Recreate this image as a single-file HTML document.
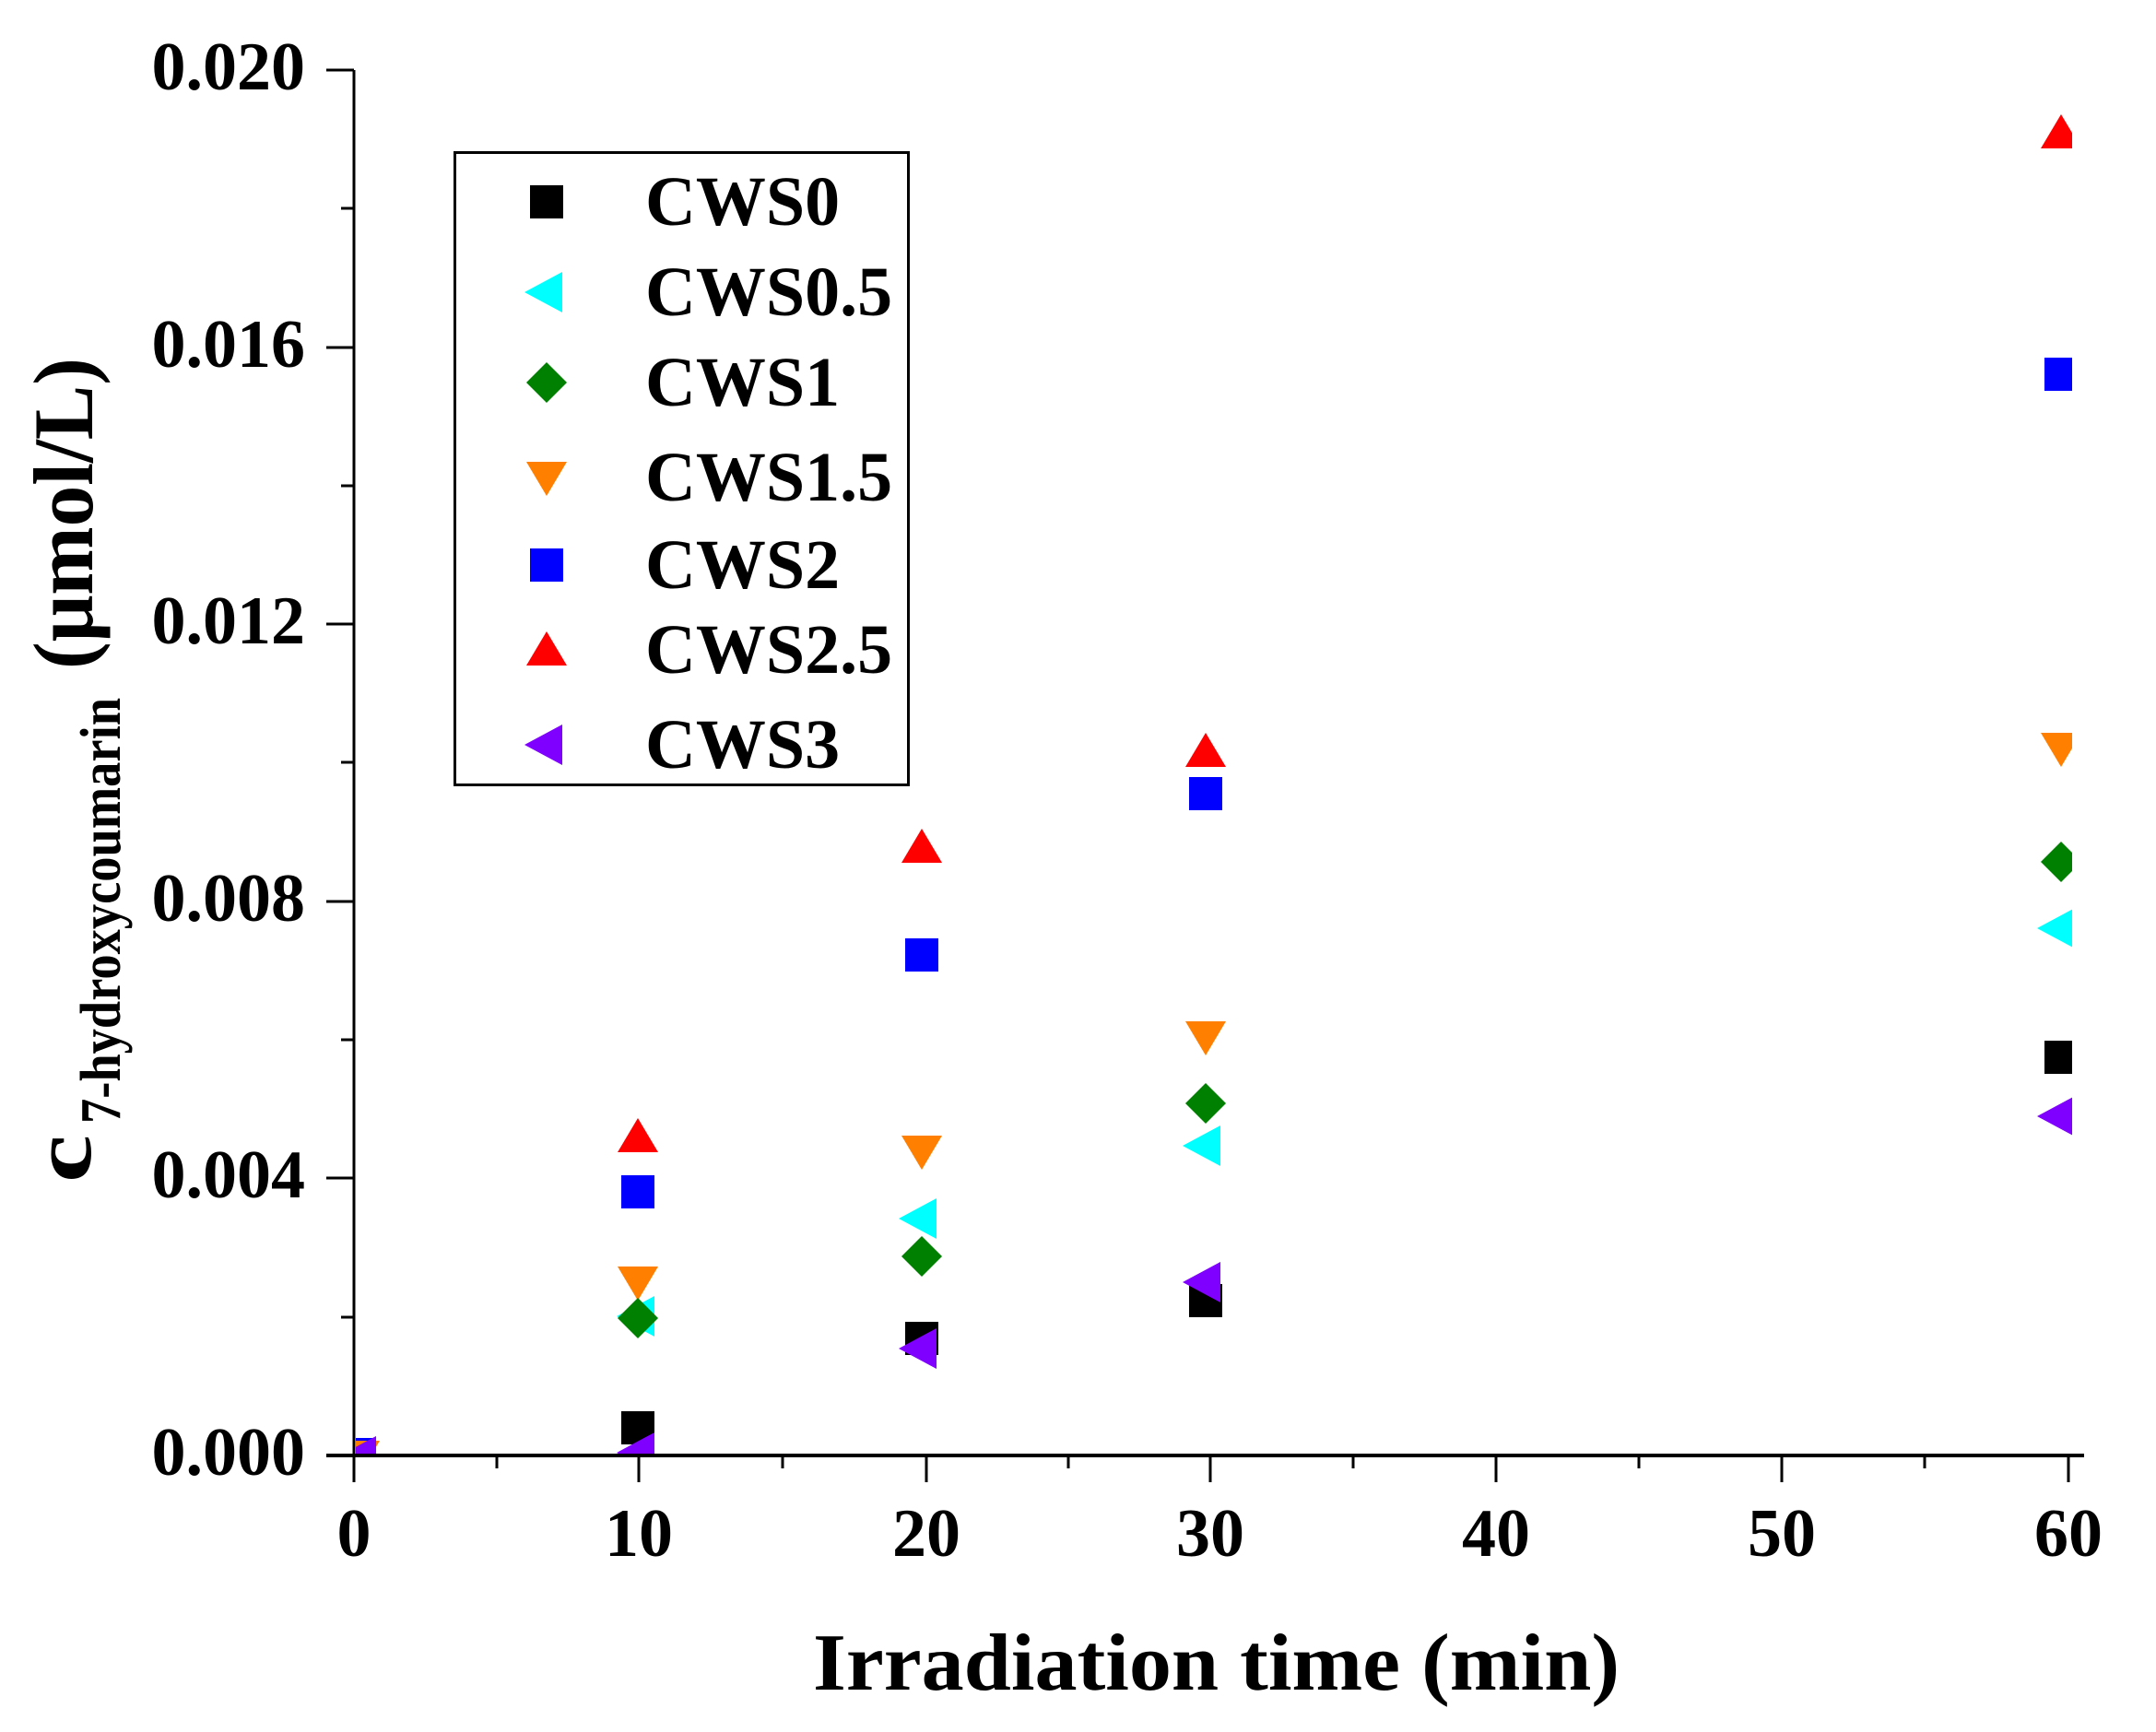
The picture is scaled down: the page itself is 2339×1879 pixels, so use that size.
<!DOCTYPE html>
<html><head><meta charset="utf-8"><style>html,body{margin:0;padding:0;background:#fff}svg{display:block}</style></head>
<body>
<svg width="2339" height="1879" viewBox="0 0 2339 1879" xmlns="http://www.w3.org/2000/svg" font-family="'Liberation Serif', serif" font-weight="bold">
<defs>
<clipPath id="pc"><rect x="386" y="0" width="1862" height="1577"/></clipPath>
<g id="sq"><rect x="-18" y="-18" width="36" height="36"/></g>
<g id="up"><polygon points="0,-20 22,17 -22,17"/></g>
<g id="dn"><polygon points="0,20 22,-17 -22,-17"/></g>
<g id="lt"><polygon points="-21,0 20,-22 20,22"/></g>
<g id="di"><polygon points="0,-22 22,0 0,22 -22,0"/></g>
</defs>
<!-- axes -->
<line x1="384" y1="76" x2="384" y2="1580" stroke="#000" stroke-width="3"/>
<line x1="354" y1="1579" x2="2261" y2="1579" stroke="#000" stroke-width="4"/>
<g stroke="#000" stroke-width="3">
<line x1="354" y1="76" x2="384" y2="76"/>
<line x1="354" y1="377" x2="384" y2="377"/>
<line x1="354" y1="677" x2="384" y2="677"/>
<line x1="354" y1="978" x2="384" y2="978"/>
<line x1="354" y1="1278" x2="384" y2="1278"/>
<line x1="370" y1="226" x2="384" y2="226"/>
<line x1="370" y1="527" x2="384" y2="527"/>
<line x1="370" y1="827" x2="384" y2="827"/>
<line x1="370" y1="1128" x2="384" y2="1128"/>
<line x1="370" y1="1429" x2="384" y2="1429"/>
<line x1="384" y1="1579" x2="384" y2="1608"/>
<line x1="693" y1="1579" x2="693" y2="1608"/>
<line x1="1005" y1="1579" x2="1005" y2="1608"/>
<line x1="1313" y1="1579" x2="1313" y2="1608"/>
<line x1="1623" y1="1579" x2="1623" y2="1608"/>
<line x1="1933" y1="1579" x2="1933" y2="1608"/>
<line x1="2244" y1="1579" x2="2244" y2="1608"/>
<line x1="539" y1="1579" x2="539" y2="1593"/>
<line x1="849" y1="1579" x2="849" y2="1593"/>
<line x1="1159" y1="1579" x2="1159" y2="1593"/>
<line x1="1468" y1="1579" x2="1468" y2="1593"/>
<line x1="1778" y1="1579" x2="1778" y2="1593"/>
<line x1="2088" y1="1579" x2="2088" y2="1593"/>
</g>
<!-- y tick labels -->
<g font-size="74" text-anchor="end">
<text x="331" y="97">0.020</text>
<text x="331" y="398">0.016</text>
<text x="331" y="698">0.012</text>
<text x="331" y="999">0.008</text>
<text x="331" y="1299">0.004</text>
<text x="331" y="1600">0.000</text>
</g>
<g font-size="74" text-anchor="middle">
<text x="384" y="1688">0</text>
<text x="693" y="1688">10</text>
<text x="1005" y="1688">20</text>
<text x="1313" y="1688">30</text>
<text x="1623" y="1688">40</text>
<text x="1933" y="1688">50</text>
<text x="2244" y="1688">60</text>
</g>
<text x="882" y="1833" font-size="88" textLength="875" lengthAdjust="spacingAndGlyphs">Irradiation time (min)</text>
<text transform="translate(98,1283) rotate(-90)" font-size="90" textLength="52" lengthAdjust="spacingAndGlyphs">c</text>
<text transform="translate(130,1219) rotate(-90)" font-size="62" textLength="462" lengthAdjust="spacingAndGlyphs">7-hydroxycoumarin</text>
<text transform="translate(100,726) rotate(-90)" font-size="92" textLength="338" lengthAdjust="spacingAndGlyphs">(μmol/L)</text>
<!-- legend -->
<rect x="493.5" y="165.5" width="492" height="686" fill="none" stroke="#000" stroke-width="3"/>
<use href="#sq" x="593" y="219" fill="#000"/>
<use href="#lt" x="590" y="317" fill="#00ffff"/>
<use href="#di" x="593" y="415" fill="#008000"/>
<use href="#dn" x="593" y="518" fill="#ff8000"/>
<use href="#sq" x="593" y="613" fill="#0000ff"/>
<use href="#up" x="593" y="705" fill="#ff0000"/>
<use href="#lt" x="590" y="808" fill="#8000ff"/>
<g font-size="76">
<text x="700" y="244">CWS0</text>
<text x="700" y="342">CWS0.5</text>
<text x="700" y="440">CWS1</text>
<text x="700" y="543">CWS1.5</text>
<text x="700" y="638">CWS2</text>
<text x="700" y="730">CWS2.5</text>
<text x="700" y="833">CWS3</text>
</g>
<!-- data -->
<g clip-path="url(#pc)">
<use href="#up" x="385" y="1578" fill="#ff0000"/>
<use href="#sq" x="388" y="1578" fill="#0000ff"/>
<use href="#dn" x="390" y="1580" fill="#ff8000"/>
<use href="#lt" x="388" y="1580" fill="#8000ff"/>

<use href="#up" x="692" y="1233" fill="#ff0000"/>
<use href="#sq" x="692" y="1293" fill="#0000ff"/>
<use href="#lt" x="690" y="1428" fill="#00ffff"/>
<use href="#dn" x="692" y="1391" fill="#ff8000"/>
<use href="#di" x="692" y="1430" fill="#008000"/>
<use href="#sq" x="692" y="1549" fill="#000"/>
<use href="#lt" x="690" y="1576" fill="#8000ff"/>

<use href="#up" x="1000" y="919" fill="#ff0000"/>
<use href="#sq" x="1000" y="1036" fill="#0000ff"/>
<use href="#dn" x="1000" y="1249" fill="#ff8000"/>
<use href="#lt" x="996" y="1322" fill="#00ffff"/>
<use href="#di" x="1000" y="1363" fill="#008000"/>
<use href="#sq" x="1000" y="1452" fill="#000"/>
<use href="#lt" x="996" y="1463" fill="#8000ff"/>

<use href="#up" x="1308" y="815" fill="#ff0000"/>
<use href="#sq" x="1308" y="861" fill="#0000ff"/>
<use href="#dn" x="1308" y="1125" fill="#ff8000"/>
<use href="#di" x="1308" y="1197" fill="#008000"/>
<use href="#lt" x="1304" y="1243" fill="#00ffff"/>
<use href="#sq" x="1308" y="1411" fill="#000"/>
<use href="#lt" x="1304" y="1391" fill="#8000ff"/>

<use href="#up" x="2236" y="144" fill="#ff0000"/>
<use href="#sq" x="2236" y="406" fill="#0000ff"/>
<use href="#dn" x="2236" y="812" fill="#ff8000"/>
<use href="#di" x="2236" y="935" fill="#008000"/>
<use href="#lt" x="2231" y="1007" fill="#00ffff"/>
<use href="#sq" x="2236" y="1147" fill="#000"/>
<use href="#lt" x="2231" y="1211" fill="#8000ff"/>
</g>
</svg>
</body></html>
